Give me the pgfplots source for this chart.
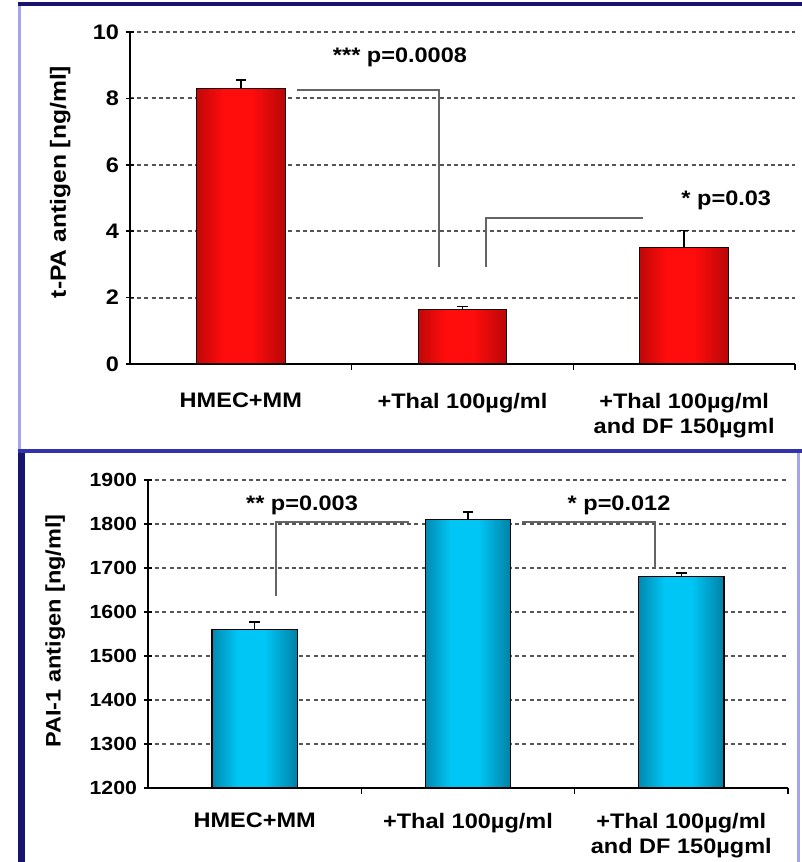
\documentclass[border=0pt]{standalone}
\usepackage{pgfplots}
\pgfplotsset{compat=1.18}
\usepackage{fontspec}
\setmainfont{Liberation Sans}[FakeStretch=1.12]

\definecolor{rdark}{RGB}{90,0,0}
\definecolor{rbright}{RGB}{255,12,12}
\definecolor{bdark}{RGB}{0,38,62}
\definecolor{bbright}{RGB}{0,198,245}
\definecolor{framenavy}{RGB}{25,20,110}
\definecolor{framelav}{RGB}{165,165,235}
\definecolor{frameblue}{RGB}{50,50,175}
\definecolor{gridgray}{RGB}{85,85,85}
\definecolor{brackgray}{RGB}{100,100,100}

% cylinder-like bar fills: dark edges, bright centre
\pgfdeclarehorizontalshading{redbar}{100bp}{color(0bp)=(rdark); color(40bp)=(rbright); color(56bp)=(rbright); color(100bp)=(rdark)}
\pgfdeclarehorizontalshading{bluebar}{100bp}{color(0bp)=(bdark); color(40bp)=(bbright); color(56bp)=(bbright); color(100bp)=(bdark)}

\pgfplotsset{
  panel/.style={
    scale only axis,
    axis lines=left,
    axis line style={-, line width=1pt, black},
    xmin=-0.5, xmax=2.5,
    xtick={0,1,2},
    xticklabels={HMEC+MM, +Thal 100µg/ml, {+Thal 100µg/ml\\and DF 150µgml}},
    xticklabel style={align=center, anchor=north, yshift=-7pt},
    major x tick style={draw=none},
    minor xtick={0.5,1.5,2.5},
    minor x tick style={yshift=-1.4pt, line width=0.8pt, black},
    tick align=center,
    major tick length=4pt,
    ytick style={line width=0.8pt, black},
    ymajorgrids,
    grid style={gridgray, line width=1pt, dash pattern=on 2pt off 1.6pt},
    tick label style={font=\bfseries\fontsize{10.5}{12.5}\selectfont},
    label style={font=\bfseries\fontsize{10.5}{12.5}\selectfont},
    /pgf/number format/assume math mode=true,
    /pgf/number format/1000 sep={},
    clip=false,
  },
  onebar/.style={ybar, bar width=0.4, draw=black!90!red, line width=0.6pt, shade, shading=#1},
  errbars/.style={
    draw=none, forget plot,
    error bars/.cd, y dir=plus, y explicit,
    error bar style={draw=black, line width=0.8pt},
    error mark options={draw=black, rotate=90, mark size=2.6pt, line width=0.8pt},
  },
}

\begin{document}
\begin{tikzpicture}
\useasboundingbox (0pt,0pt) rectangle (401pt,431pt);
% panel frames
\fill[white] (9pt,206pt) rectangle (401pt,430pt);
\fill[framenavy] (9pt,428pt) rectangle (401pt,430pt);
\fill[framelav] (9pt,206pt) rectangle (10.5pt,428pt);
\fill[frameblue] (9pt,204.5pt) rectangle (401pt,206.5pt);
\fill[framenavy] (9pt,0pt) rectangle (12.5pt,204.5pt);
\fill[framelav] (398.5pt,0pt) rectangle (400pt,204.5pt);

% t-PA antigen
\begin{axis}[panel,
  at={(65pt,249pt)}, anchor=south west,
  width=332.5pt, height=166pt,
  ymin=0, ymax=10, ytick={0,2,...,10},
  xticklabel style={yshift=-2pt},
  ylabel={t-PA antigen [ng/ml]},
  ylabel style={at={(axis description cs:-0.105,0.548)}, anchor=center, font=\bfseries\fontsize{11}{13}\selectfont},
]
% one plot per bar so that each bar gets its own shading
\addplot[onebar=redbar] coordinates {(0,8.31)};
\addplot[onebar=redbar] coordinates {(1,1.63)};
\addplot[onebar=redbar] coordinates {(2,3.52)};
\addplot[errbars] coordinates {(0,8.31) +- (0,0.25) (1,1.63) +- (0,0.1) (2,3.52) +- (0,0.5)};
\draw[brackgray, line width=1pt] (axis cs:0.253,8.25) -| (axis cs:0.894,2.92);
\draw[brackgray, line width=1pt] (axis cs:1.106,2.92) |- (axis cs:1.814,4.4);
\node[font=\bfseries\fontsize{10.5}{12.5}\selectfont] at (axis cs:0.718,9.25) {*** p=0.0008};
\node[font=\bfseries\fontsize{10.5}{12.5}\selectfont] at (axis cs:2.19,4.94) {* p=0.03};
\end{axis}

% PAI-1 antigen
\begin{axis}[panel,
  at={(74pt,37pt)}, anchor=south west,
  width=320pt, height=154pt,
  ymin=1200, ymax=1900, ytick={1200,1300,...,1900},
  ylabel={PAI-1 antigen [ng/ml]},
  ylabel style={at={(axis description cs:-0.145,0.51)}, anchor=center},
  yticklabel style={font=\bfseries\fontsize{9.5}{11}\selectfont},
]
\addplot[onebar=bluebar] coordinates {(0,1560)};
\addplot[onebar=bluebar] coordinates {(1,1811)};
\addplot[onebar=bluebar] coordinates {(2,1680)};
\addplot[errbars] coordinates {(0,1560) +- (0,17) (1,1811) +- (0,16) (2,1680) +- (0,8)};
\draw[brackgray, line width=1pt] (axis cs:0.10,1636) |- (axis cs:0.724,1805);
\draw[brackgray, line width=1pt] (axis cs:1.253,1805) -| (axis cs:1.877,1700);
\node[font=\bfseries\fontsize{10.5}{12.5}\selectfont] at (axis cs:0.222,1843) {** p=0.003};
\node[font=\bfseries\fontsize{10.5}{12.5}\selectfont] at (axis cs:1.708,1843) {* p=0.012};
\end{axis}
\end{tikzpicture}
\end{document}
